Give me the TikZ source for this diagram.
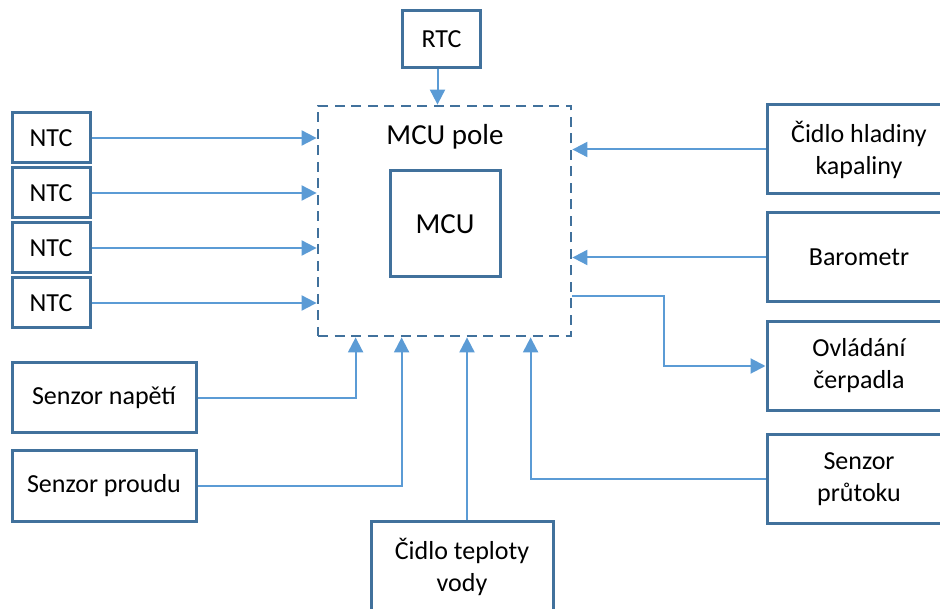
\documentclass[tikz,border=0pt]{standalone}
\usepackage{fontspec}
\setmainfont{Carlito}
\usetikzlibrary{arrows.meta}
\definecolor{boxc}{HTML}{41719C}
\definecolor{arrc}{HTML}{5B9BD5}
\begin{document}
\begin{tikzpicture}[x=1pt,y=-1pt,
  blk/.style={draw=boxc, line width=3pt, inner sep=0pt, align=center,
    font=\fontsize{26}{32}\selectfont},
  arr/.style={draw=arrc, line width=2pt, -{Triangle[length=15pt,width=15pt]}},
  poleframe/.style={draw=boxc, line width=2.8pt, dash pattern=on 10pt off 6.5pt, inner sep=0pt}
]
\useasboundingbox (0,0) rectangle (940,609);
\clip (0,0) rectangle (940,609);

% central
\node[poleframe, minimum width=253pt, minimum height=230pt] (pole) at (444.5,221) {};
\node[font=\fontsize{29}{34}\selectfont] (poletxt) at (445,137) {MCU pole};
\node[blk, minimum width=110pt, minimum height=106pt, font=\fontsize{29}{34}\selectfont] (mcu) at (445,224) {MCU};

% top
\node[blk, minimum width=78pt, minimum height=57pt] (rtc) at (441.5,39.5) {RTC};

% left NTC
\node[blk, minimum width=78pt, minimum height=50pt] (ntc1) at (51,138) {NTC};
\node[blk, minimum width=78pt, minimum height=50pt] (ntc2) at (51,193) {NTC};
\node[blk, minimum width=78pt, minimum height=50pt] (ntc3) at (51,248) {NTC};
\node[blk, minimum width=78pt, minimum height=50pt] (ntc4) at (51,303) {NTC};

% left bottom
\node[blk, minimum width=184pt, minimum height=70pt] (napeti) at (104,398) {Senzor napětí};
\node[blk, minimum width=184pt, minimum height=70pt] (proud) at (104,486) {Senzor proudu};

% bottom
\node[blk, minimum width=182pt, minimum height=92pt] (teplota) at (462,567) {Čidlo teploty\\vody};

% right
\node[blk, minimum width=184pt, minimum height=89pt] (hladina) at (859,149.5) {Čidlo hladiny\\kapaliny};
\node[blk, minimum width=184pt, minimum height=89pt] (baro) at (859,257.5) {Barometr};
\node[blk, minimum width=184pt, minimum height=89pt] (ovl) at (859,366) {Ovládání\\čerpadla};
\node[blk, minimum width=184pt, minimum height=89pt] (prutok) at (859,479) {Senzor\\průtoku};

% connectors
\draw[arr] ([xshift=-4pt]rtc.south) -- ([xshift=-4pt]rtc.south |- pole.north);
\foreach \n in {ntc1,ntc2,ntc3,ntc4}
  \draw[arr] (\n.east) -- (\n.east -| pole.west);
\draw[arr] (hladina.west) -- (hladina.west -| pole.east);
\draw[arr] (baro.west) -- (baro.west -| pole.east);
\draw[arr] ([yshift=-75pt]pole.east) -| ([xshift=-102pt]ovl.west) -- (ovl.west);
\draw[arr] (napeti.east) -| ([xshift=39pt]pole.south west);
\draw[arr] (proud.east) -| ([xshift=85pt]pole.south west);
\draw[arr] ([xshift=5pt]teplota.north) -- ([xshift=5pt]teplota.north |- pole.south);
\draw[arr] (prutok.west) -| ([xshift=214pt]pole.south west);
\end{tikzpicture}
\end{document}
